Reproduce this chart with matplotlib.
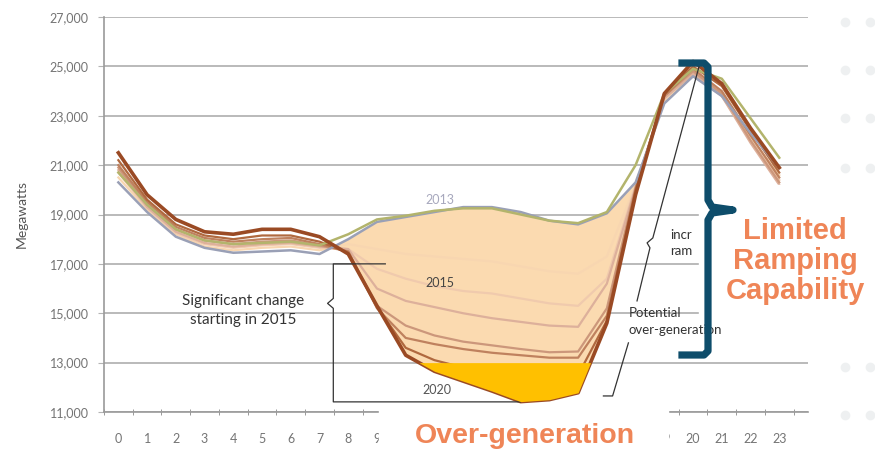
import matplotlib

matplotlib.use("Agg")
import matplotlib.pyplot as plt
import numpy as np
from matplotlib.lines import Line2D
from matplotlib.patches import Rectangle
from matplotlib.ticker import FuncFormatter

plt.rcParams["font.family"] = ["Lato", "DejaVu Sans"]

hours = np.arange(24)
# hour labels 10-18 sit under the "Over-generation" banner in the original
hour_labels = [str(h) if h < 10 or h > 18 else "" for h in hours]

# net load (MW), one value per hour
load_2012 = [20700, 19400, 18400, 17950, 17800, 17850, 17900, 17750, 18200, 18800, 18950, 19150,
             19250, 19250, 19000, 18750, 18650, 19100, 21000, 23900, 24900, 24500, 22900, 21300]
load_2013 = [20300, 19100, 18100, 17650, 17450, 17500, 17550, 17400, 18000, 18700, 18900, 19100,
             19300, 19300, 19100, 18750, 18600, 19050, 20300, 23500, 24600, 23800, 22300, 20900]
load_2014 = [20500, 19200, 18200, 17700, 17550, 17650, 17700, 17550, 17800, 17600, 17400, 17300,
             17200, 17100, 16900, 16700, 16600, 17300, 20200, 23600, 24600, 23900, 22100, 20600]
load_2015 = [20700, 19250, 18250, 17800, 17650, 17750, 17800, 17650, 17600, 16800, 16400, 16100,
             15900, 15800, 15600, 15400, 15300, 16400, 20200, 23700, 24700, 23800, 22000, 20400]
load_2016 = [20800, 19300, 18300, 17850, 17700, 17800, 17850, 17700, 17600, 16000, 15500, 15250,
             15000, 14800, 14650, 14500, 14450, 16200, 20100, 23700, 24700, 23800, 21900, 20200]
load_2017 = [20900, 19400, 18400, 17950, 17800, 17900, 17950, 17750, 17500, 15300, 14500, 14100,
             13850, 13700, 13550, 13420, 13450, 15200, 20100, 23800, 24800, 23900, 22000, 20300]
load_2018 = [21000, 19500, 18500, 18050, 17900, 18000, 18050, 17800, 17500, 15200, 14000, 13750,
             13550, 13400, 13300, 13200, 13200, 14900, 20000, 23800, 24900, 24000, 22200, 20500]
load_2019 = [21200, 19600, 18600, 18150, 18000, 18150, 18150, 17900, 17450, 15250, 13600, 13100,
             12800, 12500, 12350, 12300, 12500, 14700, 20000, 23900, 25000, 24200, 22400, 20700]
load_2020 = [21500, 19800, 18800, 18300, 18200, 18400, 18400, 18100, 17400, 15300, 13300, 12650,
             12250, 11850, 11420, 11500, 11780, 14600, 19800, 23900, 25200, 24300, 22500, 20900]

mid_years = [load_2014, load_2015, load_2016, load_2017, load_2018, load_2019]
mid_colors = ["#f8d6b0", "#f0caad", "#ddb09b", "#cc977b", "#bf815e", "#b0693f"]

W, H = 875, 451


def px(x, y):
    """Pixel position (from top-left) -> figure fraction."""
    return x / W, 1 - y / H


fig = plt.figure(figsize=(8.75, 4.51), dpi=100)
ax = fig.add_axes([104 / W, 39 / H, 704 / W, 395 / H])

ax.set_xlim(-0.5, 24)
ax.set_ylim(11000, 27000)
ax.set_yticks(np.arange(11000, 27001, 2000))
ax.yaxis.set_major_formatter(FuncFormatter(lambda v, _: f"{int(v):,}"))
ax.set_xticks(hours)
ax.set_xticklabels(hour_labels)
ax.set_xticks(np.arange(-0.5, 24, 1), minor=True)
ax.grid(axis="y", color="#b4b4b4", lw=1.3)
ax.set_axisbelow(True)
for s in ["top", "right"]:
    ax.spines[s].set_visible(False)
for s in ["left", "bottom"]:
    ax.spines[s].set_color("#9a9a9a")
    ax.spines[s].set_linewidth(1.2)
ax.tick_params(axis="y", length=4, color="#b4b4b4", labelsize=9, labelcolor="#747474", pad=7)
ax.tick_params(axis="x", which="major", length=0, labelsize=9, labelcolor="#747474", pad=15)
ax.tick_params(axis="x", which="minor", length=5, direction="inout", color="#888888")
ax.set_ylabel("Megawatts", fontsize=10, color="#555555", labelpad=16)

y13 = np.array(load_2013)
y20 = np.array(load_2020)
ax.fill_between(hours, y20, y13, where=y13 > y20, interpolate=True,
                color="#fbdab0", lw=0, zorder=2)

for vals, c in zip(mid_years, mid_colors):
    ax.plot(hours, vals, color=c, lw=1.6, zorder=3)
ax.plot(hours, load_2013, color="#9aa0b6", lw=1.8, zorder=3)
ax.plot(hours, load_2012, color="#b3b46c", lw=1.8, zorder=3)
ax.plot(hours, load_2020, color="#9a4a24", lw=2.6, zorder=3)

# over-generation area below 13,000 MW
ax.fill_between(hours, y20, 13000, where=y20 < 13000, interpolate=True,
                color="#ffc000", lw=0, zorder=4)

# year labels
ax.text(11.2, 19600, "2013", fontsize=9, color="#a7a8bd", ha="center", va="center", zorder=6)
ax.text(11.2, 16230, "2015", fontsize=9, color="#444444", ha="center", va="center", zorder=6)
ax.text(11.1, 11890, "2020", fontsize=9, color="#555555", ha="center", va="center", zorder=6)

# "significant change" bracket
ax.plot([9.29, 7.48, 7.48, 7.28, 7.48, 7.48, 14.0],
        [17000, 17000, 15600, 15400, 15200, 11410, 11410],
        color="#333333", lw=0.9, zorder=3.5)
ax.text(4.35, 15100, "Significant change\nstarting in 2015", fontsize=11, color="#333333",
        ha="center", va="center", linespacing=1.45, zorder=6)

# potential over-generation / ramp leader lines
ax.plot([16.88, 17.2, 17.75], [11650, 11650, 13800], color="#333333", lw=0.9, zorder=5)
ax.plot([18.05, 18.5, 18.4, 18.6, 20.25], [15500, 17650, 17850, 18050, 25180],
        color="#333333", lw=0.9, zorder=5)
ax.text(17.75, 14650, "Potential\nover-generation", fontsize=9.5, color="#333333",
        ha="left", va="center", linespacing=1.5, zorder=6)
ax.text(19.2, 17850, "incr\nram", fontsize=9.5, color="#333333",
        ha="left", va="center", linespacing=1.4, zorder=6)

# white panels laid over the chart
x0, y0 = px(379, 451)
x1, y1 = px(668, 406)
fig.add_artist(Rectangle((x0, y0), x1 - x0, y1 - y0, transform=fig.transFigure,
                         color="white", zorder=5))
x0, y0 = px(699, 323)
x1, y1 = px(W, 185)
fig.add_artist(Rectangle((x0, y0), x1 - x0, y1 - y0, transform=fig.transFigure,
                         color="white", zorder=5))

# background dots
dot_x = [845, 870]
dot_y = [22, 70, 118, 168, 367, 415]
for dy in dot_y:
    pts = [px(dx, dy) for dx in dot_x]
    fig.add_artist(Line2D([p[0] for p in pts], [p[1] for p in pts], ls="none", marker="o",
                          ms=7, mfc="#eef0f1", mec="none", transform=fig.transFigure, zorder=4))

# ramping bracket
bx = [682, 704, 708, 708, 712, 733, 712, 708, 708, 704, 682]
by = [63, 63, 67, 200, 207, 210, 213, 220, 351, 355, 355]
pts = [px(a, b) for a, b in zip(bx, by)]
fig.add_artist(Line2D([p[0] for p in pts], [p[1] for p in pts], color="#0e4d6b", lw=5.2,
                      solid_joinstyle="round", transform=fig.transFigure, zorder=6))

orange = "#ef8557"
tx, ty = px(795, 261)
fig.text(tx, ty, "Limited\nRamping\nCapability", fontsize=21, fontweight="bold", color=orange,
         family=["Liberation Sans", "DejaVu Sans"], ha="center", va="center",
         linespacing=1.1, zorder=7)
tx, ty = px(525, 436)
fig.text(tx, ty, "Over-generation", fontsize=20.5, fontweight="bold", color=orange,
         family=["Liberation Sans", "DejaVu Sans"], ha="center", va="center", zorder=7)

fig.savefig("out.png", dpi=100)
